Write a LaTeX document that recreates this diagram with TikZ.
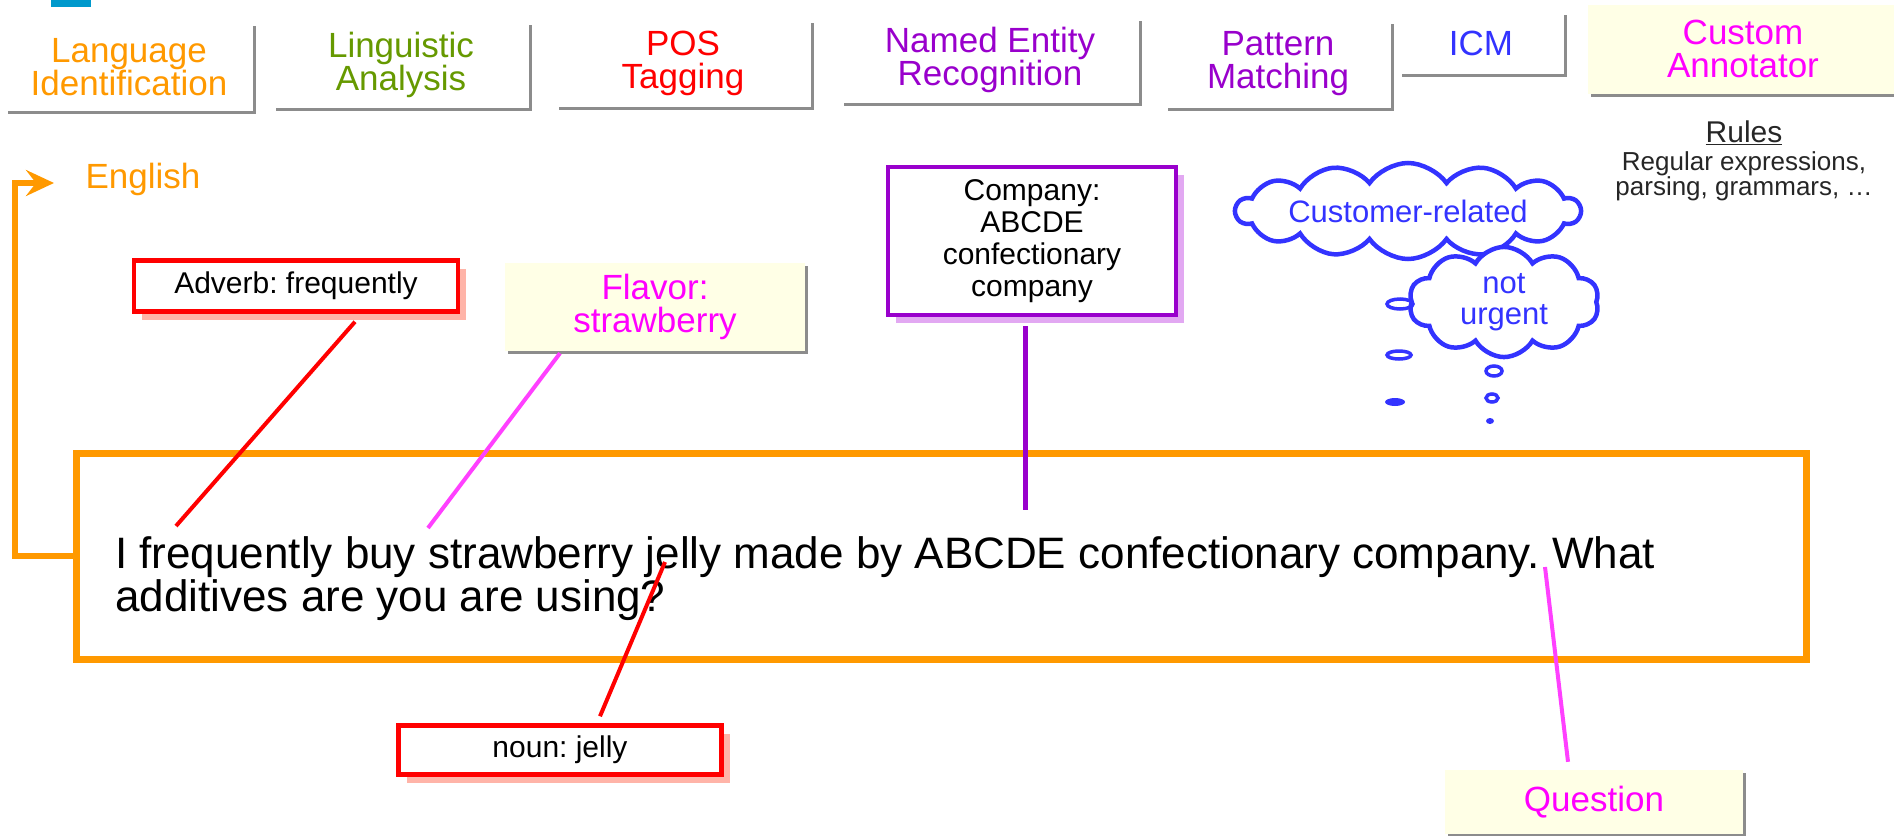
\documentclass[tikz,border=0pt]{standalone}
\usepackage{fontspec}
\setmainfont{Liberation Sans}
\frenchspacing
\usetikzlibrary{shapes.symbols,shadows,arrows.meta,positioning}

\definecolor{langorange}{HTML}{FF9900}
\definecolor{lingreen}{HTML}{669900}
\definecolor{posred}{HTML}{FF0000}
\definecolor{nerpurple}{HTML}{9900CC}
\definecolor{icmblue}{HTML}{3333FF}
\definecolor{custmagenta}{HTML}{FF00FF}
\definecolor{noteyellow}{HTML}{FFFFE6}
\definecolor{posredshade}{HTML}{FFB4A8}
\definecolor{nerpurpleshade}{HTML}{E2A8F2}
\definecolor{logoblue}{HTML}{0099CC}

\tikzset{
  annotator/.style={fill=white, inner sep=0pt, align=center,
    font=\fontsize{35}{33}\selectfont,
    drop shadow={shadow xshift=3pt, shadow yshift=-3pt, fill=black!45, opacity=1}},
  notebox/.style={annotator, fill=noteyellow},
  tagbox/.style={draw=#1, line width=4.5pt, fill=white, inner sep=0pt, align=center,
    font=\fontsize{30}{32}\selectfont,
    drop shadow={shadow xshift=8pt, shadow yshift=-8pt, fill=#1shade, opacity=1}},
  leader/.style={line width=4pt},
  thought/.style={cloud, cloud ignores aspect, draw=icmblue, line width=4.5pt,
    text=icmblue, align=center, font=\fontsize{31}{31}\selectfont},
}

\begin{document}
\begin{tikzpicture}[x=1pt,y=-1pt]
  \path[use as bounding box, clip] (0,0) rectangle (1894,835);
  \fill[logoblue] (51,0) rectangle (91,7);

  \node[annotator, text=langorange, minimum width=248pt, minimum height=88pt] (langid) at (129,67) {Language\\Identification};
  \node[annotator, text=lingreen, minimum width=256pt, minimum height=86pt] (lingana) at (401,65) {Linguistic\\Analysis};
  \node[annotator, text=posred, minimum width=255pt, minimum height=87pt] (postag) at (683,63) {POS\\Tagging};
  \node[annotator, text=nerpurple, minimum width=298pt, minimum height=85pt] (ner) at (990,60) {Named Entity\\Recognition};
  \node[annotator, text=nerpurple, minimum width=226pt, minimum height=87pt] (pattern) at (1278,64) {Pattern\\Matching};
  \node[annotator, text=icmblue, minimum width=165pt, minimum height=62pt] (icm) at (1481,43) {ICM};
  \node[notebox, text=custmagenta, minimum width=310pt, minimum height=89pt] (custom) at (1743,49) {Custom\\Annotator};

  \node[font=\fontsize{30}{30}\selectfont, text=black!85] (rules) at (1744,133) {\underline{Rules}};
  \node[font=\fontsize{26}{25}\selectfont, text=black!85, align=center] (rulesnote) at (1744,176) {Regular expressions,\\parsing, grammars, …};

  \node[text=langorange, font=\fontsize{35}{31}\selectfont, anchor=west] (english) at (82,179) {English};
  \coordinate (langin) at (15,183);
  \coordinate (langtip) at (54,183);

  \node[draw=langorange, line width=7pt, minimum width=1730pt, minimum height=206pt] (sentbox) at (941,556) {};
  \node[anchor=north west, inner sep=0pt, align=left, font=\fontsize{44}{43}\selectfont] (sentence) at (115,536)
    {I frequently buy strawberry jelly made by ABCDE confectionary company. What\\additives are you are using?};
  \draw[langorange, line width=6pt, -{Stealth[length=28pt, width=26pt, inset=10pt]}] (sentbox.west) -| (langin) -- (langtip);

  \node[tagbox=posred, minimum width=324pt, minimum height=51pt] (adverb) at (296,286) {Adverb: frequently};
  \node[notebox, text=custmagenta, minimum width=300pt, minimum height=88pt] (flavor) at (655,307) {Flavor:\\strawberry};
  \node[tagbox=nerpurple, minimum width=288pt, minimum height=148pt] (company) at (1032,241) {Company:\\ABCDE\\confectionary\\company};
  \node[tagbox=posred, minimum width=323pt, minimum height=49pt] (noun) at (560,750) {noun: jelly};
  \node[notebox, text=custmagenta, minimum width=298pt, minimum height=64pt] (question) at (1594,802) {Question};

  \coordinate (wfrequently) at (176,526);
  \coordinate (wstrawberry) at (428,528);
  \coordinate (wcompany) at (1025,510);
  \coordinate (wjelly) at (665,562);
  \coordinate (wwhat) at (1545,567);
  \draw[leader, posred] ([xshift=59pt,yshift=-8pt]adverb.south) -- (wfrequently);
  \draw[leader, custmagenta!75] ([xshift=-95pt,yshift=-2pt]flavor.south) -- (wstrawberry);
  \draw[leader, nerpurple, line width=5pt] ([xshift=-7pt,yshift=-9pt]company.south) -- (wcompany);
  \draw[leader, posred] ([xshift=40pt,yshift=7pt]noun.north) -- (wjelly);
  \draw[leader, custmagenta!75] ([xshift=-26pt,yshift=8pt]question.north) -- (wwhat);

  \node[thought, cloud puffs=14, cloud puff arc=110, minimum width=340pt, minimum height=96pt] (customer) at (1408,211) {Customer-related};
  \node[thought, cloud puffs=10, cloud puff arc=120, fill=white, minimum width=190pt, minimum height=100pt] (urgent) at (1504,302) {not\\urgent};
  \foreach \bx/\by/\rx/\ry in {1400/304/13/5, 1399/355/12/4, 1494/371/8/5, 1492/398/6/4}
    \draw[icmblue, line width=3.5pt] (\bx,\by) ellipse [x radius=\rx pt, y radius=\ry pt];
  \fill[icmblue] (1395,402) ellipse [x radius=10pt, y radius=4pt];
  \fill[icmblue] (1490,421) ellipse [x radius=4pt, y radius=3pt];
\end{tikzpicture}
\end{document}
